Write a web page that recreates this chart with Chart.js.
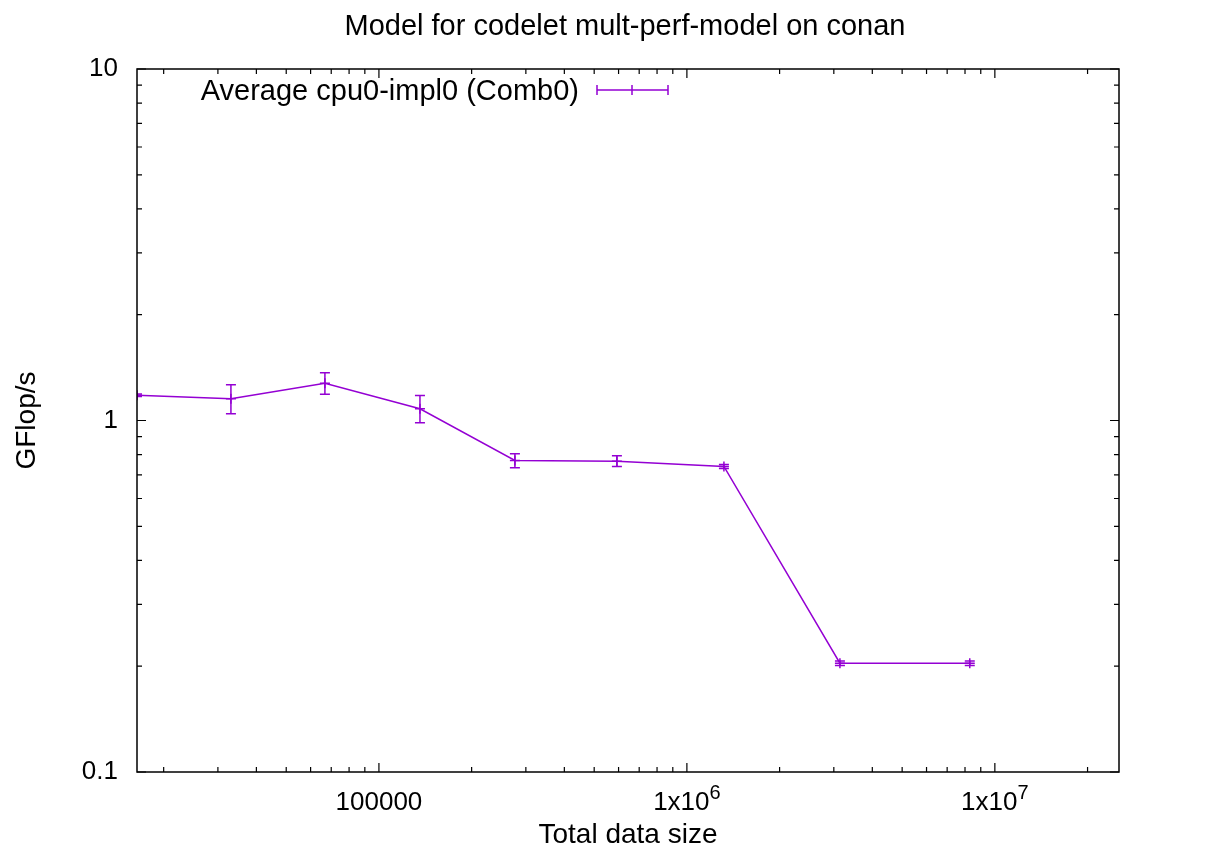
<!DOCTYPE html>
<html><head><meta charset="utf-8">
<script src="https://cdn.jsdelivr.net/npm/chart.js@4.4.1/dist/chart.umd.min.js"></script>
<style>html,body{margin:0;padding:0;background:#fff;}</style>
</head><body>
<canvas id="c" width="1227" height="852" style="display:block"></canvas>
<script>
// ---- data ----
const chartTitle = 'Model for codelet mult-perf-model on conan';
const seriesName = 'Average cpu0-impl0 (Comb0)';
const xAxisTitle = 'Total data size';
const yAxisTitle = 'GFlop/s';
const dataSizes = [16384, 33070, 66770, 135900, 276400, 592600, 1319000, 3140000, 8290000];
const gflops    = [1.18, 1.153, 1.277, 1.08, 0.77, 0.766, 0.74, 0.204, 0.204];
const errLow    = [1.17, 1.045, 1.187, 0.985, 0.734, 0.740, 0.730, 0.201, 0.201];
const errHigh   = [1.19, 1.263, 1.367, 1.178, 0.804, 0.794, 0.750, 0.207, 0.207];
const xMajorTicks  = [100000, 1000000, 10000000];
const xMajorLabels = ['100000', '1x10^6', '1x10^7'];
const yMajorTicks  = [0.1, 1, 10];
const yMajorLabels = ['0.1', '1', '10'];
const xRange = [16384, 25300000];
const yRange = [0.1, 10];

const FONT = "'Liberation Sans', Arial, sans-serif";
const COLOR = '#9400D3';

function minorTicks(min, max) {
  const out = [];
  for (let d = Math.floor(Math.log10(min)); d <= Math.ceil(Math.log10(max)); d++) {
    for (let m = 1; m <= 9; m++) {
      const v = m * Math.pow(10, d);
      if (v >= min * 0.999 && v <= max * 1.001) out.push({value: v, major: m === 1});
    }
  }
  return out;
}
function labelFor(v, majors, labels) {
  for (let i = 0; i < majors.length; i++) {
    if (Math.abs(v - majors[i]) / majors[i] < 1e-6) return labels[i];
  }
  return '';
}

const gnuplotPlugin = {
  id: 'gnuplotPlugin',
  afterDatasetsDraw(chart) {
    const {ctx, chartArea: a, scales: {x, y}} = chart;
    ctx.save();
    ctx.beginPath();
    ctx.rect(a.left, a.top, a.right - a.left, a.bottom - a.top);
    ctx.clip();
    ctx.strokeStyle = COLOR;
    ctx.lineWidth = 1.5;
    for (let i = 0; i < dataSizes.length; i++) {
      const px = x.getPixelForValue(dataSizes[i]);
      const y1 = y.getPixelForValue(errLow[i]);
      const y2 = y.getPixelForValue(errHigh[i]);
      ctx.beginPath();
      ctx.moveTo(px, y1); ctx.lineTo(px, y2);
      ctx.moveTo(px - 5, y1); ctx.lineTo(px + 5, y1);
      ctx.moveTo(px - 5, y2); ctx.lineTo(px + 5, y2);
      ctx.stroke();
    }
    ctx.restore();
  },
  afterDraw(chart) {
    const {ctx, chartArea: a, scales: {x, y}} = chart;
    ctx.save();
    // title
    ctx.fillStyle = '#000';
    ctx.font = '29px ' + FONT;
    ctx.textAlign = 'center';
    ctx.textBaseline = 'alphabetic';
    ctx.fillText(chartTitle, 625, 35);
    // x major labels with superscript exponents
    const base = 810;
    xMajorTicks.forEach((v, i) => {
      const px = x.getPixelForValue(v);
      const parts = xMajorLabels[i].split('^');
      ctx.font = '26px ' + FONT;
      const w1 = ctx.measureText(parts[0]).width;
      let w2 = 0;
      if (parts[1]) { ctx.font = '20px ' + FONT; w2 = ctx.measureText(parts[1]).width; }
      const start = px - (w1 + w2) / 2;
      ctx.textAlign = 'left';
      ctx.font = '26px ' + FONT;
      ctx.fillText(parts[0], start, base);
      if (parts[1]) { ctx.font = '20px ' + FONT; ctx.fillText(parts[1], start + w1, base - 11); }
    });
    // frame & ticks
    ctx.strokeStyle = '#000';
    ctx.lineWidth = 1.5;
    ctx.strokeRect(a.left, a.top, a.right - a.left, a.bottom - a.top);
    ctx.lineWidth = 1.2;
    ctx.beginPath();
    x.ticks.forEach(t => {
      const px = x.getPixelForValue(t.value);
      const L = t.major ? 9 : 5;
      if (px < a.left + 1 || px > a.right - 1) return;
      ctx.moveTo(px, a.bottom); ctx.lineTo(px, a.bottom - L);
      ctx.moveTo(px, a.top); ctx.lineTo(px, a.top + L);
    });
    y.ticks.forEach(t => {
      const py = y.getPixelForValue(t.value);
      const L = t.major ? 9 : 5;
      ctx.moveTo(a.left, py); ctx.lineTo(a.left + L, py);
      ctx.moveTo(a.right, py); ctx.lineTo(a.right - L, py);
    });
    ctx.stroke();
    // legend
    ctx.fillStyle = '#000';
    ctx.font = '29px ' + FONT;
    ctx.textAlign = 'right';
    ctx.textBaseline = 'alphabetic';
    const ly = 90;
    ctx.fillText(seriesName, 579, 100);
    ctx.strokeStyle = COLOR;
    ctx.lineWidth = 1.5;
    ctx.beginPath();
    ctx.moveTo(597, ly); ctx.lineTo(668, ly);
    ctx.moveTo(597, ly - 5); ctx.lineTo(597, ly + 5);
    ctx.moveTo(668, ly - 5); ctx.lineTo(668, ly + 5);
    ctx.moveTo(632, ly - 5); ctx.lineTo(632, ly + 5);
    ctx.stroke();
    ctx.restore();
  }
};

new Chart(document.getElementById('c'), {
  type: 'line',
  data: {
    datasets: [{
      label: seriesName,
      data: dataSizes.map((s, i) => ({x: s, y: gflops[i]})),
      borderColor: COLOR,
      backgroundColor: COLOR,
      borderWidth: 1.5,
      pointStyle: 'cross',
      pointRadius: 5,
      pointBorderWidth: 1.5,
      tension: 0,
      fill: false
    }]
  },
  options: {
    responsive: false,
    devicePixelRatio: 1,
    animation: false,
    layout: {padding: {left: 0, right: 108, top: 69, bottom: 0}},
    plugins: {
      legend: {display: false},
      tooltip: {enabled: false},
      title: {display: false}
    },
    scales: {
      x: {
        type: 'logarithmic', min: xRange[0], max: xRange[1],
        grid: {display: false, drawTicks: false},
        border: {display: false},
        afterBuildTicks: s => { s.ticks = minorTicks(xRange[0], xRange[1]); },
        afterFit: s => { s.height = 80; },
        ticks: {
          color: '#000', font: {family: FONT, size: 26}, padding: 11,
          autoSkip: false, maxRotation: 0, minRotation: 0,
          callback: () => ''
        },
        title: {display: true, text: xAxisTitle, color: '#000',
          font: {family: FONT, size: 28}, padding: {top: 0, bottom: 0}}
      },
      y: {
        type: 'logarithmic', min: yRange[0], max: yRange[1],
        grid: {display: false, drawTicks: false},
        border: {display: false},
        afterBuildTicks: s => { s.ticks = minorTicks(yRange[0], yRange[1]); },
        afterFit: s => { s.width = 137; },
        ticks: {
          color: '#000', font: {family: FONT, size: 26}, padding: 19,
          autoSkip: false,
          callback: v => labelFor(v, yMajorTicks, yMajorLabels)
        },
        title: {display: true, text: yAxisTitle, color: '#000',
          font: {family: FONT, size: 28}, padding: {top: 10, bottom: 0}}
      }
    }
  },
  plugins: [gnuplotPlugin]
});
</script>
</body></html>
